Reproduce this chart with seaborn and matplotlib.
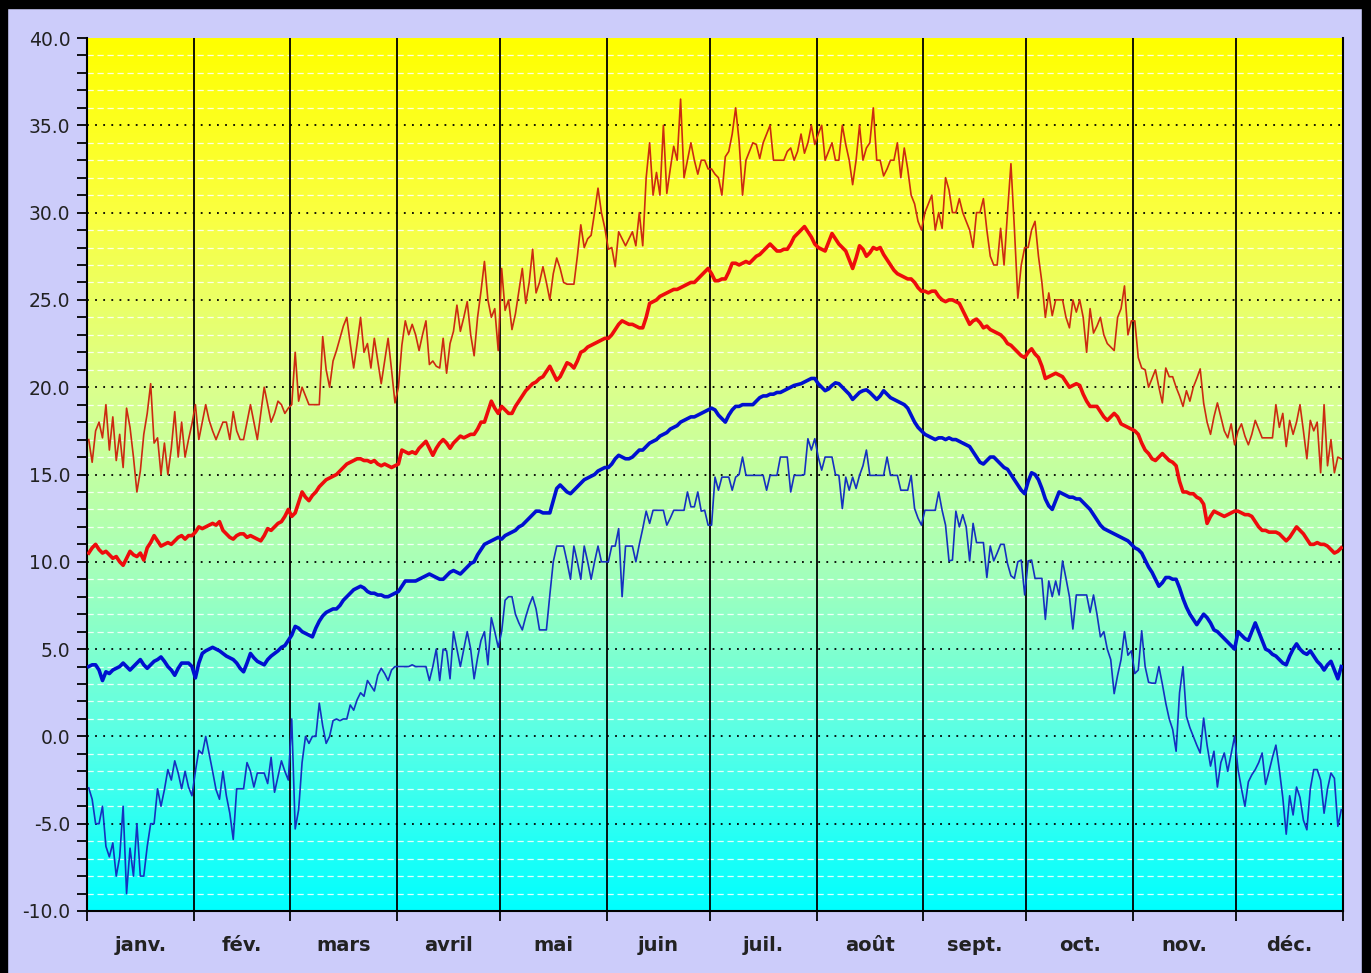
import numpy as np
import pandas as pd
import matplotlib
matplotlib.use("Agg")
import matplotlib.pyplot as plt
import seaborn as sns
from matplotlib.colors import LinearSegmentedColormap
from matplotlib.patches import Rectangle

# month names and lengths
months = ['janv.', 'fév.', 'mars', 'avril', 'mai', 'juin', 'juil.', 'août', 'sept.', 'oct.', 'nov.', 'déc.']
month_days = [31, 28, 31, 30, 31, 30, 31, 31, 30, 31, 30, 31]
y_ticks = [-10, -5, 0, 5, 10, 15, 20, 25, 30, 35, 40]

# record max (thin red), one value per day
tmax_rec = [
    17.0,15.7,17.5,18.0,17.1,19.0,16.4,18.3,15.8,17.3,15.4,18.8,17.7,16.0,14.0,15.2,17.3,18.5,20.2,16.8,17.1,15.0,16.8,15.0,16.5,18.6,16.0,18.0,16.0,17.0,17.9,
    19.0,17.0,18.0,19.0,18.1,17.5,17.0,17.5,18.0,18.0,17.0,18.6,17.5,17.0,17.0,18.0,19.0,18.0,17.0,18.5,20.0,19.0,18.0,18.5,19.2,19.0,18.5,18.8,
    19.0,22.0,19.2,20.0,19.5,19.0,19.0,19.0,19.0,22.9,21.0,20.0,21.5,22.1,22.8,23.5,24.0,22.5,21.1,22.5,24.0,22.0,22.5,21.1,22.8,21.5,20.2,21.5,22.8,21.0,19.1,
    20.0,22.4,23.8,23.0,23.6,23.0,22.1,23.0,23.8,21.3,21.5,21.2,21.1,22.8,20.8,22.5,23.2,24.7,23.2,24.0,24.9,23.0,21.8,24.0,25.5,27.2,25.0,24.0,24.5,22.1,
    26.8,24.4,25.0,23.3,24.2,25.5,26.8,24.8,26.0,27.9,25.4,26.0,26.9,26.0,25.0,26.5,27.4,26.8,26.0,25.9,25.9,25.9,27.5,29.3,28.0,28.5,28.7,30.0,31.4,30.0,29.1,
    27.9,28.0,26.9,28.9,28.5,28.1,28.5,28.9,28.1,30.0,28.1,32.0,34.0,31.0,32.3,31.0,35.0,31.1,32.5,33.8,33.0,36.5,32.0,33.0,34.0,33.0,32.2,33.0,33.0,32.5,
    32.5,32.2,32.0,31.0,33.2,33.5,34.5,36.0,34.1,31.0,33.0,33.5,34.0,33.9,33.1,34.0,34.5,35.0,33.0,33.0,33.0,33.0,33.5,33.7,33.0,33.5,34.5,33.4,34.0,35.0,33.9,
    34.5,35.0,33.0,33.5,34.0,33.0,33.0,35.0,33.9,33.0,31.6,33.0,35.0,33.0,33.7,34.0,36.0,33.0,33.0,32.1,32.5,33.0,33.0,34.0,32.0,33.7,32.5,31.0,30.5,29.5,29.0,
    30.0,30.5,31.0,29.0,30.0,29.1,32.0,31.3,30.0,30.0,30.8,30.0,29.5,29.0,28.0,30.0,30.0,30.8,29.0,27.5,27.0,27.0,29.1,27.0,30.0,32.8,29.1,25.1,27.0,28.0,
    28.0,29.0,29.5,27.5,26.0,24.0,25.4,24.1,25.0,25.0,25.0,24.0,23.4,25.0,24.3,25.0,24.0,22.0,24.5,23.1,23.5,24.0,23.0,22.5,22.3,22.1,24.0,24.5,25.8,23.0,23.8,
    23.8,21.7,21.1,21.0,20.0,20.5,21.0,20.0,19.1,21.1,20.6,20.6,20.0,19.5,18.9,19.8,19.2,20.0,20.5,21.05,19.1,18.0,17.3,18.3,19.1,18.3,17.5,17.1,17.9,16.7,
    17.5,17.9,17.2,16.7,17.3,18.1,17.6,17.1,17.1,17.1,17.1,19.0,17.7,18.5,16.6,18.1,17.3,18.0,19.0,17.5,15.9,18.1,17.5,18.0,15.1,19.0,15.5,17.0,15.1,16.0,15.9,
]

# mean max (thick red)
tmax_avg = [
    10.5,10.8,11.0,10.7,10.5,10.6,10.4,10.2,10.3,10.0,9.8,10.2,10.6,10.4,10.3,10.5,10.1,10.8,11.1,11.5,11.2,10.9,11.0,11.1,11.0,11.2,11.4,11.5,11.3,11.5,11.5,
    11.7,12.0,11.9,12.0,12.1,12.2,12.1,12.3,11.8,11.6,11.4,11.3,11.5,11.6,11.6,11.4,11.5,11.4,11.3,11.2,11.5,11.9,11.8,12.0,12.2,12.3,12.6,13.0,
    12.6,12.8,13.4,14.0,13.7,13.5,13.8,14.0,14.3,14.5,14.7,14.8,14.9,15.0,15.2,15.4,15.6,15.7,15.8,15.9,15.9,15.8,15.8,15.7,15.8,15.6,15.5,15.6,15.5,15.4,15.5,
    15.6,16.4,16.3,16.2,16.3,16.2,16.5,16.7,16.9,16.5,16.1,16.5,16.8,17.0,16.8,16.5,16.8,17.0,17.2,17.1,17.2,17.3,17.3,17.6,18.0,18.0,18.6,19.2,18.8,18.5,
    18.9,18.7,18.5,18.5,18.9,19.2,19.5,19.8,20.0,20.2,20.3,20.5,20.6,20.9,21.2,20.8,20.4,20.6,21.0,21.4,21.3,21.1,21.5,22.0,22.1,22.3,22.4,22.5,22.6,22.7,22.8,
    22.8,23.0,23.3,23.6,23.8,23.7,23.6,23.6,23.5,23.4,23.4,24.0,24.8,24.9,25.0,25.2,25.3,25.4,25.5,25.6,25.6,25.7,25.8,25.9,26.0,26.0,26.2,26.4,26.6,26.8,
    26.5,26.1,26.1,26.2,26.2,26.6,27.1,27.1,27.0,27.1,27.2,27.1,27.3,27.5,27.6,27.8,28.0,28.2,28.0,27.8,27.8,27.9,27.9,28.2,28.6,28.8,29.0,29.2,28.9,28.6,28.2,
    28.0,27.9,27.8,28.3,28.8,28.5,28.2,28.0,27.8,27.3,26.8,27.4,28.1,27.9,27.5,27.7,28.0,27.9,28.0,27.6,27.3,27.0,26.7,26.5,26.4,26.3,26.2,26.2,26.0,25.7,25.5,
    25.5,25.4,25.5,25.5,25.2,25.0,24.9,25.0,25.0,24.9,24.8,24.4,24.0,23.6,23.8,23.9,23.7,23.4,23.5,23.3,23.2,23.1,23.0,22.8,22.5,22.4,22.2,22.0,21.8,21.7,
    22.0,22.2,21.9,21.7,21.2,20.5,20.6,20.7,20.8,20.7,20.6,20.3,20.0,20.1,20.2,20.1,19.6,19.2,18.9,18.9,18.9,18.6,18.3,18.1,18.3,18.5,18.3,17.9,17.8,17.7,17.6,
    17.5,17.3,16.8,16.4,16.2,15.9,15.8,16.0,16.2,16.0,15.8,15.7,15.5,14.6,14.0,14.0,13.9,13.9,13.7,13.6,13.3,12.2,12.6,12.9,12.8,12.7,12.6,12.7,12.8,12.9,
    12.9,12.8,12.7,12.7,12.6,12.3,12.0,11.8,11.8,11.7,11.7,11.7,11.6,11.4,11.2,11.4,11.7,12.0,11.8,11.6,11.3,11.0,11.0,11.1,11.0,11.0,10.9,10.7,10.5,10.6,10.8,
]

# mean min (thick blue)
tmin_avg = [
    4.0,4.1,4.1,3.8,3.2,3.7,3.6,3.8,3.9,4.0,4.2,4.0,3.8,4.0,4.2,4.4,4.1,3.9,4.1,4.3,4.4,4.55,4.3,4.0,3.8,3.5,3.9,4.2,4.2,4.2,4.0,
    3.35,4.2,4.75,4.9,5.0,5.1,5.0,4.9,4.75,4.6,4.5,4.4,4.2,3.9,3.7,4.2,4.75,4.5,4.3,4.2,4.1,4.4,4.6,4.75,4.9,5.1,5.2,5.5,
    5.8,6.3,6.2,6.0,5.9,5.8,5.7,6.2,6.6,6.9,7.1,7.2,7.3,7.3,7.5,7.8,8.0,8.2,8.4,8.5,8.6,8.5,8.3,8.2,8.2,8.1,8.1,8.0,8.0,8.1,8.2,
    8.3,8.6,8.9,8.9,8.9,8.9,9.0,9.1,9.2,9.3,9.2,9.1,9.0,9.0,9.2,9.4,9.5,9.4,9.3,9.5,9.7,9.9,10.0,10.4,10.7,11.0,11.1,11.2,11.3,11.4,
    11.3,11.5,11.6,11.7,11.8,12.0,12.1,12.3,12.5,12.7,12.9,12.9,12.8,12.8,12.8,13.5,14.2,14.4,14.2,14.0,13.9,14.1,14.3,14.5,14.7,14.8,14.9,15.0,15.2,15.3,15.4,
    15.4,15.6,15.9,16.1,16.0,15.9,15.9,16.0,16.2,16.4,16.4,16.6,16.8,16.9,17.0,17.2,17.3,17.4,17.6,17.7,17.8,18.0,18.1,18.2,18.3,18.3,18.4,18.5,18.6,18.7,
    18.8,18.7,18.4,18.2,18.0,18.4,18.7,18.9,18.9,19.0,19.0,19.0,19.0,19.2,19.4,19.5,19.5,19.6,19.6,19.7,19.7,19.8,19.9,20.0,20.1,20.15,20.2,20.3,20.4,20.5,20.5,
    20.2,20.0,19.8,19.9,20.1,20.25,20.2,20.0,19.8,19.6,19.3,19.5,19.7,19.8,19.85,19.7,19.5,19.3,19.5,19.8,19.6,19.4,19.3,19.2,19.1,19.0,18.8,18.4,18.0,17.7,17.5,
    17.3,17.2,17.1,17.0,17.1,17.1,17.0,17.1,17.0,17.0,16.9,16.8,16.7,16.6,16.3,16.0,15.7,15.6,15.8,16.0,16.0,15.8,15.6,15.4,15.3,15.0,14.7,14.4,14.1,13.9,
    14.6,15.1,15.0,14.7,14.2,13.6,13.2,13.0,13.5,14.0,13.9,13.8,13.7,13.7,13.6,13.6,13.4,13.2,13.0,12.7,12.4,12.1,11.9,11.8,11.7,11.6,11.5,11.4,11.3,11.2,11.0,
    10.8,10.7,10.5,10.1,9.7,9.4,9.0,8.6,8.8,9.1,9.1,9.0,9.0,8.5,7.9,7.4,7.0,6.7,6.4,6.7,7.0,6.8,6.5,6.1,6.0,5.8,5.6,5.4,5.2,5.0,
    6.0,5.8,5.6,5.5,6.0,6.5,6.0,5.5,5.0,4.9,4.7,4.6,4.4,4.2,4.1,4.6,5.0,5.3,5.0,4.8,4.7,4.9,4.6,4.3,4.1,3.8,4.1,4.3,3.8,3.3,4.0,
]

# record min (thin blue)
tmin_rec = [
    -2.95,-3.6,-5.0,-5.0,-4.0,-6.3,-6.9,-6.1,-8.0,-6.9,-4.0,-9.0,-6.4,-8.0,-5.0,-8.0,-8.0,-6.3,-5.0,-5.0,-3.0,-4.0,-3.05,-1.9,-2.5,-1.4,-2.1,-3.0,-2.0,-2.9,-3.4,
    -2.0,-0.8,-1.0,0.0,-1.0,-2.0,-3.05,-3.6,-2.0,-3.4,-4.4,-5.9,-3.0,-3.0,-3.0,-1.5,-2.0,-2.9,-2.1,-2.1,-2.1,-2.7,-1.2,-3.2,-2.3,-1.4,-2.0,-2.5,
    1.0,-5.3,-4.2,-1.5,0.0,-0.4,0.0,0.0,1.9,0.6,-0.4,0.0,0.9,1.0,0.9,1.0,1.0,1.8,1.5,2.1,2.5,2.3,3.2,2.9,2.6,3.5,3.9,3.6,3.2,3.8,4.0,
    4.0,4.0,4.0,4.0,4.1,4.0,4.0,4.0,4.0,3.2,4.0,5.0,3.2,5.0,4.9,3.3,6.0,5.0,4.0,5.0,6.0,5.0,3.3,4.5,5.5,6.0,4.1,6.8,6.0,5.1,
    6.0,7.8,8.0,8.0,7.0,6.5,6.1,6.85,7.5,8.0,7.3,6.1,6.1,6.1,8.1,10.0,10.9,10.9,10.9,10.0,9.0,10.9,10.0,9.0,10.9,10.0,9.0,10.0,10.9,10.0,10.0,
    10.0,10.9,10.9,11.9,8.0,10.9,10.9,10.9,10.0,11.0,11.9,12.9,12.2,12.95,12.95,12.95,12.95,12.1,12.5,12.95,12.95,12.95,12.95,14.0,13.15,13.15,14.0,12.9,12.95,12.1,
    12.1,14.85,14.1,14.85,14.85,14.85,14.1,14.85,15.0,16.0,14.95,14.95,14.95,14.95,14.95,14.95,14.1,14.95,14.95,14.95,16.0,16.0,16.0,14.0,14.95,14.95,14.95,15.0,17.05,16.4,17.05,
    16.0,15.25,16.0,16.0,16.0,15.0,14.95,13.05,14.85,14.1,14.85,14.2,14.95,15.5,16.4,14.95,14.95,14.95,14.95,14.95,16.0,14.95,14.95,14.95,14.1,14.1,14.1,14.95,13.05,12.5,12.1,
    12.95,12.95,12.95,12.95,14.0,12.95,12.1,10.05,10.1,12.9,12.0,12.7,12.0,10.05,12.2,11.1,11.1,11.1,9.1,10.9,10.05,10.5,11.0,11.0,9.9,9.2,9.05,10.0,10.1,8.1,
    10.05,10.1,9.05,9.05,9.05,6.7,8.9,8.0,8.9,8.1,10.05,9.05,8.0,6.15,8.1,8.1,8.1,8.1,7.1,8.1,7.0,5.7,6.0,5.0,4.4,2.45,3.5,4.4,6.0,4.65,4.9,
    3.6,3.8,6.05,4.0,3.1,3.05,3.05,4.0,3.0,1.9,1.0,0.4,-0.85,2.5,4.0,1.15,0.5,0.0,-0.5,-0.95,1.05,-0.5,-1.7,-0.85,-2.9,-1.5,-0.95,-2.0,-1.0,0.0,
    -1.9,-3.0,-4.0,-2.6,-2.2,-1.9,-1.5,-0.95,-2.75,-2.0,-1.2,-0.5,-1.9,-3.5,-5.6,-3.4,-4.5,-2.9,-3.5,-4.8,-5.35,-3.0,-1.9,-1.9,-2.5,-4.4,-3.0,-2.1,-2.4,-5.15,-4.2,
]

df = pd.DataFrame({'day': np.arange(365) + 0.5,
                   'tmax_rec': tmax_rec, 'tmax_avg': tmax_avg,
                   'tmin_avg': tmin_avg, 'tmin_rec': tmin_rec})

bounds = np.concatenate([[0], np.cumsum(month_days)])
mids = (bounds[:-1] + bounds[1:]) / 2

fig = plt.figure(figsize=(13.71, 9.73), dpi=100, facecolor='#ccccfa')
ax = fig.add_axes([87/1371, 1 - 911/973, (1343 - 87)/1371, (911 - 38)/973])
plt.rcParams['font.family'] = ['Liberation Sans', 'DejaVu Sans']

# background gradient yellow -> cyan
cmap = LinearSegmentedColormap.from_list('bg', [
    (0.0, (0.0, 1.0, 1.0)),
    (0.2, (0.35, 1.0, 0.9)),
    (0.4, (0.66, 1.0, 0.72)),
    (0.6, (0.86, 1.0, 0.55)),
    (0.8, (0.98, 1.0, 0.25)),
    (1.0, (1.0, 1.0, 0.0))])
grad = np.linspace(0, 1, 256).reshape(-1, 1)
ax.imshow(grad, extent=[0, 365, -10, 40], origin='lower', aspect='auto', cmap=cmap, zorder=0)

# horizontal grid
for v in range(-9, 40):
    if v % 5 == 0:
        ax.axhline(v, color='black', lw=1.3, ls=(0, (1, 3.5)), zorder=1)
    else:
        ax.axhline(v, color='white', lw=0.9, ls=(0, (5, 3)), alpha=0.85, zorder=1)
# month separators
for b in bounds[1:]:
    ax.axvline(b, color='black', lw=1.3, zorder=2)

sns.lineplot(data=df, x='day', y='tmin_rec', ax=ax, color='#1530c0', lw=1.2, zorder=3)
sns.lineplot(data=df, x='day', y='tmax_rec', ax=ax, color='#cc2a10', lw=1.2, zorder=3)
sns.lineplot(data=df, x='day', y='tmin_avg', ax=ax, color='#0010d0', lw=2.6, zorder=4)
sns.lineplot(data=df, x='day', y='tmax_avg', ax=ax, color='#ee0c0c', lw=2.6, zorder=4)

ax.set_xlim(0, 365)
ax.set_ylim(-10, 40)
ax.set_xlabel('')
ax.set_ylabel('')

ax.set_yticks(y_ticks)
ax.set_yticklabels([f'{v:.1f}' for v in y_ticks], fontsize=13.5, color='#222222')
ax.set_yticks(range(-10, 41), minor=True)
ax.tick_params(axis='y', which='both', direction='out', length=7, width=1.3, color='black', pad=5)

ax.set_xticks(bounds)
ax.set_xticklabels([''] * len(bounds))
ax.tick_params(axis='x', which='major', direction='out', length=7, width=1.3, color='black')
ax.set_xticks(mids, minor=True)
ax.set_xticklabels(months, minor=True, fontsize=14, fontweight='bold', color='#222222')
ax.tick_params(axis='x', which='minor', length=0, pad=18)

for s in ['left', 'bottom', 'right']:
    ax.spines[s].set_color('black')
    ax.spines[s].set_linewidth(1.5)
ax.spines['top'].set_visible(False)

# black frame around the picture (top, left, right)
fig.patches.append(Rectangle((0, 1 - 8/973), 1, 8/973, transform=fig.transFigure, color='black', zorder=10))
fig.patches.append(Rectangle((0, 0), 7/1371, 1, transform=fig.transFigure, color='black', zorder=10))
fig.patches.append(Rectangle((1 - 9/1371, 0), 9/1371, 1, transform=fig.transFigure, color='black', zorder=10))

fig.savefig('out.png', dpi=100, facecolor=fig.get_facecolor())
